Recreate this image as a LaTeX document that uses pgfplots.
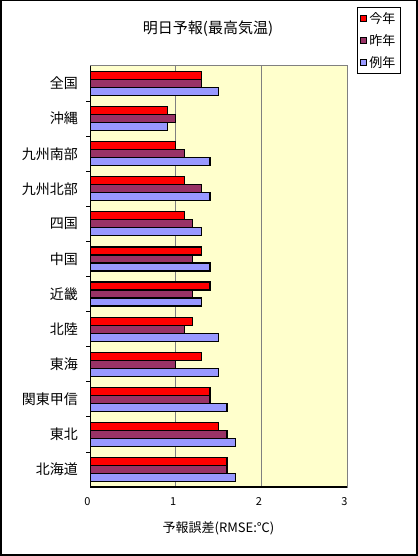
\documentclass[border=0pt]{standalone}
\usepackage{fontspec}
\setmainfont{Noto Sans CJK JP}
\usepackage{pgfplots}
\pgfplotsset{compat=1.18}
\definecolor{cRed}{HTML}{FF0000}
\definecolor{cMaroon}{HTML}{993366}
\definecolor{cBlue}{HTML}{9999FF}
\definecolor{cBg}{HTML}{FFFFCC}
\definecolor{cGrid}{HTML}{808080}
\begin{document}
\begin{tikzpicture}[x=1pt,y=1pt]
\begin{axis}[
  at={(90pt,69pt)}, anchor=south west,
  scale only axis, width=257pt, height=421pt,
  xbar, y dir=reverse,
  bar width=0.228,
  xmin=0, xmax=3, ymin=-0.5, ymax=11.5,
  xtick={0,1,2,3},
  ytick={0,...,11},
  yticklabels={全国,沖縄,九州南部,九州北部,四国,中国,近畿,北陸,東海,関東甲信,東北,北海道},
  minor ytick={0.5,1.5,...,10.5},
  major tick length=0pt,
  minor tick length=4pt,
  minor tick style={black, line width=0.8pt},
  xtick pos=bottom, ytick pos=left,
  /pgf/number format/assume math mode=true,
  yticklabel style={font=\fontsize{14}{14}\selectfont, anchor=east, inner sep=0pt, xshift=-12pt},
  xticklabel style={font=\fontsize{11}{11}\selectfont, anchor=north, inner sep=0pt, yshift=-10.5pt, xshift=-2.5pt},
  xlabel={予報誤差(RMSE:℃)},
  xlabel style={font=\fontsize{13}{13}\selectfont, at={(axis description cs:0.5,0)}, anchor=center, yshift=-41pt},
  axis background/.style={fill=cBg},
  axis line style={draw=cGrid, line width=1pt},
  xmajorgrids, major grid style={draw=cGrid, line width=1pt},
  legend style={at={(1.039,1.140)}, anchor=north west, draw=black, fill=white, line width=0.8pt,
    font=\fontsize{13}{13}\selectfont, row sep=5.5pt, inner sep=3pt},
  legend cell align=left,
  legend image code/.code={\draw[#1,draw=black,line width=1pt] (0pt,-3pt) rectangle (6pt,3pt);},
]
\addplot[fill=cRed, draw=black, line width=1.2pt, bar shift=-0.228] coordinates {
(1.3,0) (0.9,1) (1.0,2) (1.1,3) (1.1,4) (1.3,5) (1.4,6) (1.2,7) (1.3,8) (1.4,9) (1.5,10) (1.6,11)};
\addplot[fill=cMaroon, draw=black, line width=1.2pt, bar shift=0] coordinates {
(1.3,0) (1.0,1) (1.1,2) (1.3,3) (1.2,4) (1.2,5) (1.2,6) (1.1,7) (1.0,8) (1.4,9) (1.6,10) (1.6,11)};
\addplot[fill=cBlue, draw=black, line width=1.2pt, bar shift=0.228] coordinates {
(1.5,0) (0.9,1) (1.4,2) (1.4,3) (1.3,4) (1.4,5) (1.3,6) (1.5,7) (1.5,8) (1.6,9) (1.7,10) (1.7,11)};
\legend{今年,昨年,例年}
\draw[black, line width=1.5pt] (axis description cs:0,1) -- (axis description cs:0,0) -- (axis description cs:1,0);
\end{axis}
\node[font=\fontsize{15}{15}\selectfont, inner sep=0pt] at (208,527) {明日予報(最高気温)};
\draw[black, line width=3pt] (0,0) rectangle (417,556);
\pgfresetboundingbox
\useasboundingbox (0,0) rectangle (417,556);
\end{tikzpicture}
\end{document}
